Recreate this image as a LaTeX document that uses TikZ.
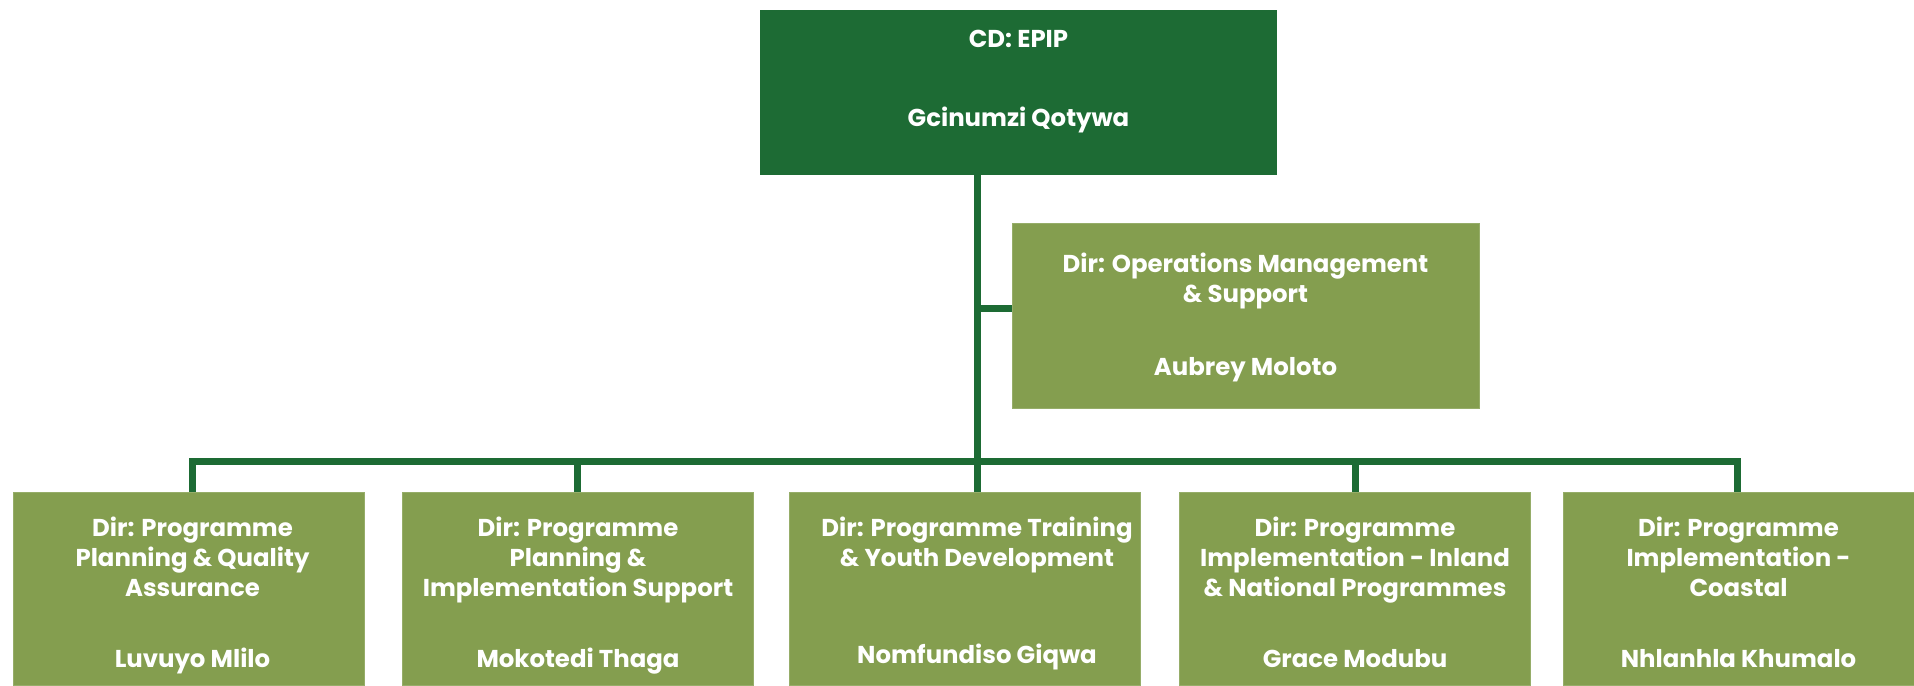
\documentclass[tikz,border=0pt]{standalone}
\usepackage{fontspec}
\setmainfont{Poppins}
\usepackage{xcolor}
\usetikzlibrary{positioning}
\definecolor{dkgreen}{HTML}{1D6B34}
\definecolor{olivebox}{HTML}{849E4F}

\begin{document}
\begin{tikzpicture}[x=0.5pt, y=-0.5pt,
  every node/.style={inner sep=0pt, outer sep=0pt},
  topbox/.style={rectangle, fill=dkgreen, minimum width=258.5pt, minimum height=82.5pt},
  dirbox/.style={rectangle, fill=olivebox, draw=olivebox!85!white, line width=0.4pt, minimum width=175.5pt, minimum height=96.5pt},
  opbox/.style={dirbox, minimum width=233.5pt, minimum height=92.5pt},
  txt/.style={text=white, font=\fontsize{12.2}{15}\selectfont\bfseries, align=center},
  link/.style={draw=dkgreen, line width=3.5pt}]
  \useasboundingbox (0,0) rectangle (1914,685);

  \node[topbox] (cd) at (1018.5,92.5) {};
  \node[opbox] (op) at (1245.5,315.5) {};
  \node[dirbox] (pq) at (188.5,588.5) {};
  \node[dirbox] (pi) at (578,588.5) {};
  \node[dirbox] (ty) at (965,588.5) {};
  \node[dirbox] (in) at (1355,588.5) {};
  \node[dirbox] (co) at (1738.5,588.5) {};

  \node[txt, below=10pt of cd.north] (cdt) {CD: EPIP};
  \node[txt, anchor=base] (cdn) at ([yshift=-58.25pt]cd.north) {Gcinumzi Qotywa};
  \node[txt, below=15pt of op.north] (opt) {Dir: Operations Management\\\& Support};
  \node[txt, anchor=base] (opn) at ([yshift=-76.25pt]op.north) {Aubrey Moloto};

  \node[txt, below=12.5pt of pq.north, xshift=2pt] (pqt) {Dir: Programme\\Planning \& Quality\\Assurance};
  \node[txt, anchor=base] (pqn) at ([xshift=2pt, yshift=-87.75pt]pq.north) {Luvuyo Mlilo};
  \node[txt, below=12.5pt of pi.north] (pit) {Dir: Programme\\Planning \&\\Implementation Support};
  \node[txt, anchor=base] (pin) at ([yshift=-87.75pt]pi.north) {Mokotedi Thaga};
  \node[txt, below=12.5pt of ty.north, xshift=6pt] (tyt) {Dir: Programme Training\\\& Youth Development};
  \node[txt, anchor=base] (tyn) at ([xshift=6pt, yshift=-85.75pt]ty.north) {Nomfundiso Giqwa};
  \node[txt, below=12.5pt of in.north] (int) {Dir: Programme\\Implementation - Inland\\\& National Programmes};
  \node[txt, anchor=base] (inn) at ([yshift=-87.75pt]in.north) {Grace Modubu};
  \node[txt, below=12.5pt of co.north] (cot) {Dir: Programme\\Implementation -\\Coastal};
  \node[txt, anchor=base] (con) at ([yshift=-87.75pt]co.north) {Nhlanhla Khumalo};

  \coordinate (hub) at (977,461);
  \coordinate (tap) at (977,308);
  \coordinate (d1) at (192,461);
  \coordinate (d2) at (577,461);
  \coordinate (d4) at (1355,461);
  \coordinate (d5) at (1737,461);

  \draw[link] (cd.south -| hub) -- (ty.north -| hub);
  \draw[link] (tap) -- (op.west |- tap);
  \draw[link] (pq.north -| d1) -- (d1) -- (d5) -- (co.north -| d5);
  \draw[link] (d2) -- (pi.north -| d2);
  \draw[link] (d4) -- (in.north -| d4);
\end{tikzpicture}
\end{document}
